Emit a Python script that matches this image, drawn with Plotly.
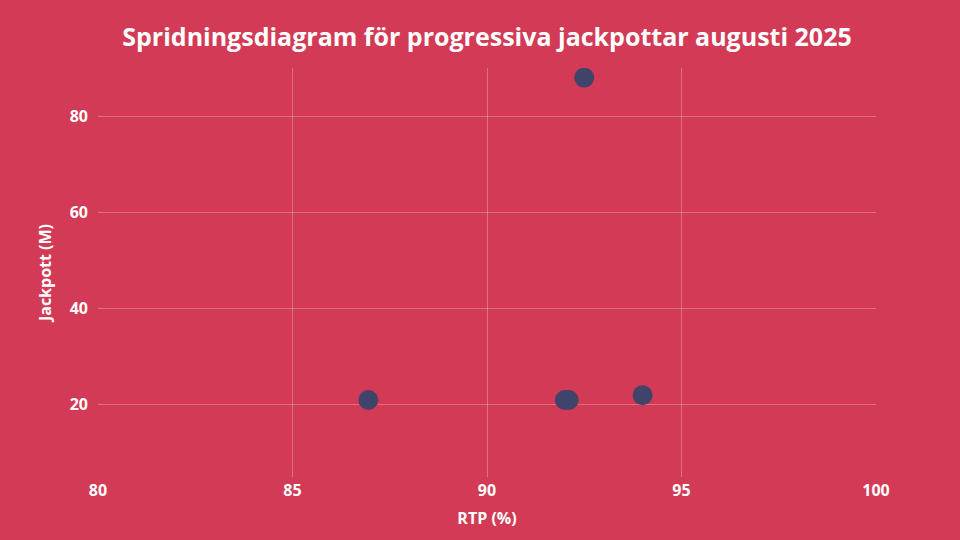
import plotly.graph_objects as go

BG = "#D33A55"
DOT = "#40446A"
GRID = "rgba(255,255,255,0.28)"

RTP = [86.95, 92.0, 92.1, 94.0, 92.5]
JACKPOT = [21, 21, 21, 22, 88]

fig = go.Figure()
fig.add_trace(go.Scatter(
    x=RTP, y=JACKPOT,
    mode="markers",
    marker=dict(size=20, color=DOT),
    showlegend=False,
))

fig.update_layout(
    width=960, height=540,
    paper_bgcolor=BG, plot_bgcolor=BG,
    font=dict(family="Open Sans", color="white", size=16),
    title=dict(
        text="<b>Spridningsdiagram för progressiva jackpottar augusti 2025</b>",
        x=0.5, xref="paper", xanchor="center", y=0.931, yanchor="middle",
        font=dict(size=25, color="white"),
    ),
    margin=dict(l=98, r=84, t=68, b=63),
    xaxis=dict(
        title=dict(text="<b>RTP (%)</b>", font=dict(size=16), standoff=12),
        range=[80, 100], dtick=5, ticklabelstandoff=2,
        showgrid=True, gridcolor=GRID, zeroline=False, showline=False,
        tickfont=dict(size=16, weight="bold"),
    ),
    yaxis=dict(
        title=dict(text="<b>Jackpott (M)</b>", font=dict(size=16), standoff=14),
        range=[5, 90], dtick=20, ticklabelstandoff=9,
        showgrid=True, gridcolor=GRID, zeroline=False, showline=False,
        tickfont=dict(size=16, weight="bold"),
    ),
)

fig.write_html("out.html", config={"displayModeBar": False},
               post_script="document.body.style.margin='0';")
